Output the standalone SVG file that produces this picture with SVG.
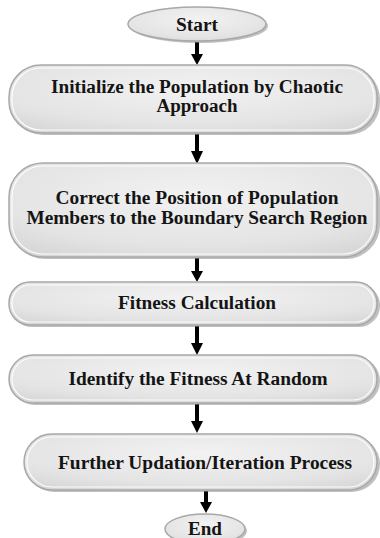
<svg xmlns="http://www.w3.org/2000/svg" width="380" height="538" viewBox="0 0 380 538">
<defs>
<radialGradient id="fill" cx="0.5" cy="0.35" r="0.75">
<stop offset="0" stop-color="#f2f2f2"/>
<stop offset="0.7" stop-color="#e4e4e4"/>
<stop offset="1" stop-color="#d6d6d6"/>
</radialGradient>
</defs>
<style>
.sh{fill:#8c8c8c;opacity:0.55}
.bx{fill:url(#fill);stroke:#a8a8a8;stroke-width:1.5}
.hl{fill:none;stroke:#ffffff;stroke-width:1.2;opacity:0.9}
.t{font-family:"Liberation Serif","Times New Roman",serif;font-weight:bold;font-size:18.5px;fill:#141414;text-anchor:middle}
.sf{fill:#000;stroke:none}
.ln{stroke:#000;stroke-width:4}
</style>
<g id="connectors">
<line class="ln" x1="197" y1="42" x2="197" y2="55"/><polygon class="sf" points="191,54 203,54 197,65"/>
<line class="ln" x1="197" y1="134" x2="197" y2="152"/><polygon class="sf" points="191,151 203,151 197,164"/>
<line class="ln" x1="197" y1="258" x2="197" y2="272"/><polygon class="sf" points="191,271 203,271 197,282"/>
<line class="ln" x1="197" y1="326" x2="197" y2="344"/><polygon class="sf" points="191,343 203,343 197,355"/>
<line class="ln" x1="197" y1="404" x2="197" y2="422"/><polygon class="sf" points="191,421 203,421 197,433"/>
<line class="ln" x1="206" y1="491" x2="206" y2="503"/><polygon class="sf" points="200,502 212,502 206,513"/>
</g>
<g id="start">
<ellipse class="sh" cx="199" cy="26" rx="69" ry="17"/>
<ellipse class="bx" cx="197" cy="24" rx="69" ry="17"/>
<text class="t" x="197" y="31" textLength="42" lengthAdjust="spacingAndGlyphs">Start</text>
</g>
<g id="init">
<rect class="sh" x="11" y="67" width="369" height="68" rx="32"/>
<rect class="bx" x="9" y="65" width="368" height="68" rx="32"/>
<rect class="hl" x="12" y="68" width="362" height="62" rx="29"/>
<text class="t" x="197" y="93" textLength="292" lengthAdjust="spacingAndGlyphs">Initialize the Population by Chaotic</text>
<text class="t" x="197" y="112" textLength="81" lengthAdjust="spacingAndGlyphs">Approach</text>
</g>
<g id="correct">
<rect class="sh" x="11" y="165" width="369" height="94" rx="34"/>
<rect class="bx" x="9" y="163" width="368" height="94" rx="34"/>
<rect class="hl" x="12" y="166" width="362" height="88" rx="31"/>
<text class="t" x="197" y="204" textLength="283" lengthAdjust="spacingAndGlyphs">Correct the Position of Population</text>
<text class="t" x="197" y="224" textLength="341" lengthAdjust="spacingAndGlyphs">Members to the Boundary Search Region</text>
</g>
<g id="fitness">
<rect class="sh" x="11" y="284" width="369" height="43" rx="21"/>
<rect class="bx" x="9" y="282" width="368" height="43" rx="21"/>
<rect class="hl" x="12" y="285" width="362" height="37" rx="18"/>
<text class="t" x="197" y="309" textLength="158" lengthAdjust="spacingAndGlyphs">Fitness Calculation</text>
</g>
<g id="identify">
<rect class="sh" x="11" y="357" width="369" height="48" rx="24"/>
<rect class="bx" x="9" y="355" width="368" height="48" rx="24"/>
<rect class="hl" x="12" y="358" width="362" height="42" rx="21"/>
<text class="t" x="198" y="385" textLength="259" lengthAdjust="spacingAndGlyphs">Identify the Fitness At Random</text>
</g>
<g id="further">
<rect class="sh" x="26" y="436" width="354" height="56" rx="28"/>
<rect class="bx" x="24" y="434" width="353" height="56" rx="28"/>
<rect class="hl" x="27" y="437" width="347" height="50" rx="25"/>
<text class="t" x="205" y="469" textLength="294" lengthAdjust="spacingAndGlyphs">Further Updation/Iteration Process</text>
</g>
<g id="end">
<ellipse class="sh" cx="207" cy="531" rx="40" ry="15"/>
<ellipse class="bx" cx="205" cy="529" rx="40" ry="15"/>
<text class="t" x="205" y="535" textLength="34" lengthAdjust="spacingAndGlyphs">End</text>
</g>
</svg>
